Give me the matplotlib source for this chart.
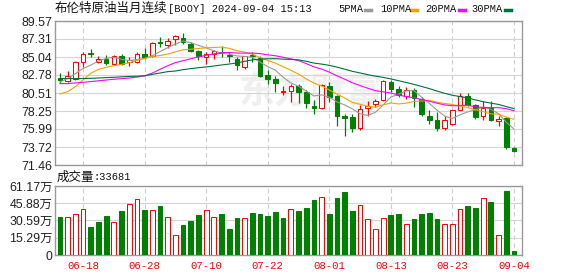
import numpy as np
import pandas as pd
import matplotlib
matplotlib.use("Agg")
import matplotlib.pyplot as plt
from matplotlib.lines import Line2D

plt.rcParams['font.family'] = ['Noto Sans CJK SC', 'DejaVu Sans']

W, H = 578, 276

# trading days shown (60 bars), labels every 8th bar
dates = pd.bdate_range("2024-06-13", "2024-09-04").strftime("%m-%d").tolist()
date_ticks = ["06-18", "06-28", "07-10", "07-22", "08-01", "08-13", "08-23", "09-04"]

open_p = [82.40, 82.07, 82.28, 84.41, 85.55, 84.46, 84.79, 84.20, 85.17, 84.37,
          84.37, 85.42, 85.21, 86.97, 86.55, 87.31, 87.43, 86.72, 85.75, 85.04,
          85.46, 85.67, 85.34, 84.83, 83.74, 85.34, 84.87, 82.82, 82.32, 80.68,
          80.77, 81.35, 80.68, 78.92, 78.59, 81.35, 80.10, 77.66, 77.45, 76.15,
          78.63, 79.09, 79.59, 81.94, 81.06, 80.10, 80.93, 79.80, 77.66, 77.16,
          76.07, 76.57, 78.42, 80.18, 79.01, 77.58, 78.59, 76.99, 77.33, 73.64]
high_p = [83.03, 83.32, 84.58, 85.63, 86.05, 85.21, 85.29, 85.29, 85.38, 85.04,
          85.63, 86.17, 86.93, 87.56, 87.43, 87.81, 88.06, 86.89, 85.96, 85.63,
          85.96, 86.47, 85.63, 85.04, 85.21, 85.63, 85.13, 83.37, 82.70, 81.35,
          81.65, 81.69, 80.93, 79.68, 81.69, 81.94, 80.26, 77.92, 77.92, 79.01,
          79.47, 79.76, 82.19, 82.19, 81.35, 81.27, 81.19, 79.97, 78.42, 78.08,
          77.58, 78.42, 80.51, 80.51, 79.17, 79.51, 79.51, 77.58, 77.50, 73.77]
low_p = [81.77, 81.94, 82.19, 83.78, 85.04, 84.25, 84.04, 83.99, 84.04, 83.87,
         84.25, 84.79, 85.04, 86.26, 86.13, 86.59, 86.72, 85.63, 84.62, 84.12,
         84.79, 85.04, 84.46, 83.37, 83.58, 84.41, 82.53, 81.60, 80.60, 80.30,
         79.43, 79.26, 78.63, 77.87, 78.54, 79.43, 76.32, 75.07, 75.61, 75.90,
         77.58, 78.75, 79.47, 80.60, 80.01, 79.80, 78.75, 77.66, 76.57, 75.69,
         75.82, 76.49, 78.33, 78.84, 77.24, 77.08, 76.99, 76.32, 73.51, 73.09]
close_p = [82.19, 82.65, 84.41, 85.46, 85.38, 84.79, 84.29, 85.13, 84.16, 84.62,
           85.38, 85.00, 86.82, 86.80, 87.05, 87.64, 86.97, 85.75, 85.13, 85.46,
           85.75, 85.55, 85.13, 84.00, 85.15, 85.12, 82.61, 82.28, 81.73, 80.81,
           81.44, 80.60, 79.26, 78.59, 81.52, 80.01, 77.58, 77.37, 76.11, 78.50,
           78.88, 79.55, 82.07, 81.02, 80.30, 80.93, 79.84, 77.83, 77.16, 76.07,
           77.16, 78.33, 80.10, 79.05, 77.45, 78.67, 77.08, 77.29, 73.72, 73.22]

# volume in 万
volume = [33.7, 33.7, 36.3, 40.5, 24.8, 29.3, 34.6, 29.0, 39.0, 44.9,
          49.3, 39.9, 39.6, 43.4, 33.4, 17.4, 26.6, 30.1, 35.5, 39.6,
          33.4, 36.3, 23.0, 32.8, 32.5, 37.2, 36.3, 34.6, 38.1, 32.8,
          40.5, 39.0, 41.7, 48.8, 51.1, 36.3, 50.5, 55.9, 39.0, 44.3,
          31.6, 22.8, 32.5, 35.5, 36.3, 27.2, 31.9, 36.3, 37.2, 31.9,
          27.5, 27.5, 40.5, 43.4, 41.7, 50.2, 47.0, 17.7, 56.7, 3.3681]

# moving-average values before enough closes are on screen
ma5_head = [81.90, 82.35, 82.95, 83.60]
ma10_head = [80.39, 80.68, 81.31, 82.15, 82.99, 83.49, 83.74, 83.95, 84.12]
ma20_head = [81.69, 81.70, 81.78, 81.86, 81.95, 82.05, 82.15, 82.24, 82.32, 82.40,
             82.52, 82.67, 83.02, 83.50, 83.95, 84.33, 84.58, 84.82, 85.05]
ma30_head = [82.33, 82.33, 82.33, 82.34, 82.36, 82.40, 82.45, 82.49, 82.55, 82.60,
             82.63, 82.68, 82.86, 83.03, 83.20, 83.28, 83.45, 83.58, 83.70, 83.79,
             83.91, 84.04, 84.16, 84.29, 84.50, 84.68, 84.78, 84.82, 84.83]

price_ticks = [71.46, 73.72, 75.99, 78.25, 80.51, 82.78, 85.04, 87.31, 89.57]
vol_ticks = [0, 15.29, 30.59, 45.88, 61.17]
vol_labels = ["0", "15.29万", "30.59万", "45.88万", "61.17万"]

UP, DOWN = '#ff0000', '#008000'
ma_specs = [("5PMA", 5, ma5_head, '#999999'),
            ("10PMA", 10, ma10_head, '#f4a000'),
            ("20PMA", 20, ma20_head, '#ff00ff'),
            ("30PMA", 30, ma30_head, '#00703c')]

x = np.arange(len(dates))
o, h, l, c = map(np.array, (open_p, high_p, low_p, close_p))
up = c > o
vol_up = c > np.r_[o[0], c[:-1]]
tick_pos = [dates.index(d) for d in date_ticks]


def px(xp, yp):
    return xp / W, 1 - yp / H


def style(ax, ticks):
    ax.set_xlim(-0.65, 60.05)
    ax.set_yticks(ticks)
    ax.set_xticks(tick_pos)
    ax.grid(axis='y', color='#d4d4d4', lw=0.8, zorder=0)
    ax.grid(axis='x', color='#cccccc', lw=0.8, ls=(0, (4, 3)), zorder=0)
    ax.tick_params(length=0, labelsize=8.9, pad=1.8, labelcolor='#222222')
    for lab in ax.get_yticklabels():
        lab.set_family(['Liberation Sans', 'Noto Sans CJK SC'])
    for sp in ax.spines.values():
        sp.set_color('#999999')
        sp.set_linewidth(1.0)
    ax.set_axisbelow(True)


fig = plt.figure(figsize=(W / 100, H / 100), dpi=100)

# price panel
ax = fig.add_axes([55 / W, 1 - 165 / H, 467 / W, 144 / H])
ax.set_ylim(71.46, 89.57)
style(ax, price_ticks)
ax.set_xticklabels([])
ax.text(32.6, 80.7, "东方财富", fontsize=26, color='#efefef', fontweight='bold',
        ha='center', va='center', zorder=0)
ax.vlines(x, l, h, colors=np.where(up, UP, DOWN), lw=0.9, zorder=2)
ax.bar(x, np.maximum(np.abs(c - o), 0.03), bottom=np.minimum(o, c), width=0.6,
       color=np.where(up, 'white', DOWN), edgecolor=np.where(up, UP, DOWN),
       lw=0.75, zorder=3)
close_s = pd.Series(close_p)
for name, n, head, col in ma_specs:
    ma = close_s.rolling(n).mean()
    ma.iloc[:n - 1] = head
    ax.plot(x, ma, color=col, lw=0.8, zorder=4)

# volume panel
axv = fig.add_axes([55 / W, 1 - 255 / H, 467 / W, 69 / H])
axv.set_ylim(0, 61.17)
style(axv, vol_ticks)
axv.set_yticklabels(vol_labels)
axv.bar(x, volume, width=0.62, color=np.where(vol_up, 'white', DOWN),
        edgecolor=np.where(vol_up, UP, DOWN), lw=0.75, zorder=3)
axv.set_xticklabels(date_ticks, family='Liberation Mono', fontsize=7.7,
                    color='#ff0000')
axv.tick_params(axis='x', pad=4.0, labelcolor='#ff0000')

# header
fig.text(*px(55, 8.5), "布伦特原油当月连续", fontsize=9, va='center', color='#111111')
fig.text(*px(168, 8.5), "[BOOY] 2024-09-04 15:13", family='Liberation Mono',
         fontsize=7.5, va='center', color='#111111')
for (name, n, head, col), lx, sx in zip(ma_specs, [338, 380, 425, 471],
                                        [365, 411, 459, 505]):
    fig.text(*px(lx, 8.5), name, family='Liberation Mono', fontsize=7.5,
             va='center', color='#111111')
    fig.add_artist(Line2D([sx / W, (sx + 6) / W], [1 - 10 / H] * 2, color=col,
                          lw=2.5, transform=fig.transFigure))

fig.text(*px(57, 177.5), "成交量", fontsize=9, va='center', color='#111111')
fig.text(*px(93, 177.5), ":" + str(int(volume[-1] * 1e4)), family='Liberation Mono',
         fontsize=7.5, va='center', color='#111111')

fig.savefig("out.png", dpi=100)
